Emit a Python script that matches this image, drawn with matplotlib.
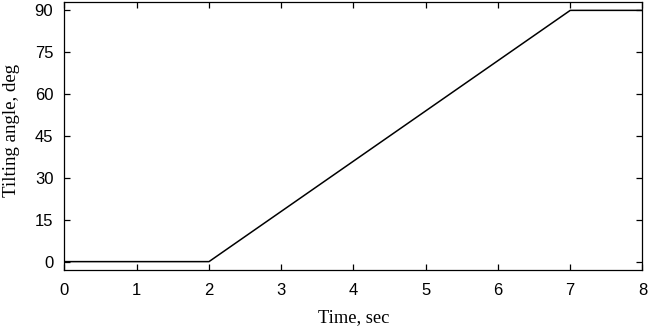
import matplotlib
matplotlib.use("Agg")
import matplotlib.pyplot as plt

# tilting profile: flat, linear ramp, flat
time_s = [0, 2, 7, 8]
angle_deg = [0, 0, 90, 90]
x_ticks = [0, 1, 2, 3, 4, 5, 6, 7, 8]
y_ticks = [0, 15, 30, 45, 60, 75, 90]

fig = plt.figure(figsize=(6.48, 3.27), dpi=100)
ax = fig.add_axes([0.0995, 0.1743, 0.892, 0.8196])

ax.plot(time_s, angle_deg, color="black", linewidth=1.1)

ax.set_xlim(0, 8)
ax.set_ylim(-3, 93)
ax.set_xticks(x_ticks)
ax.set_yticks(y_ticks)
ax.tick_params(direction="in", top=True, right=True, length=4, width=0.9,
               labelsize=12)
ax.tick_params(axis="x", pad=9.5)
ax.tick_params(axis="y", pad=8)
for lab in ax.get_xticklabels() + ax.get_yticklabels():
    lab.set_family(["Liberation Sans", "DejaVu Sans"])
for sp in ax.spines.values():
    sp.set_linewidth(0.9)

serif = ["Liberation Serif", "DejaVu Serif"]
ax.set_xlabel("Time, sec", family=serif, fontsize=13.3, labelpad=8)
ax.set_ylabel("Tilting angle, deg", family=serif, fontsize=13.6)
ax.yaxis.set_label_coords(-0.077, 0.52)

fig.savefig("out.png", dpi=100)
